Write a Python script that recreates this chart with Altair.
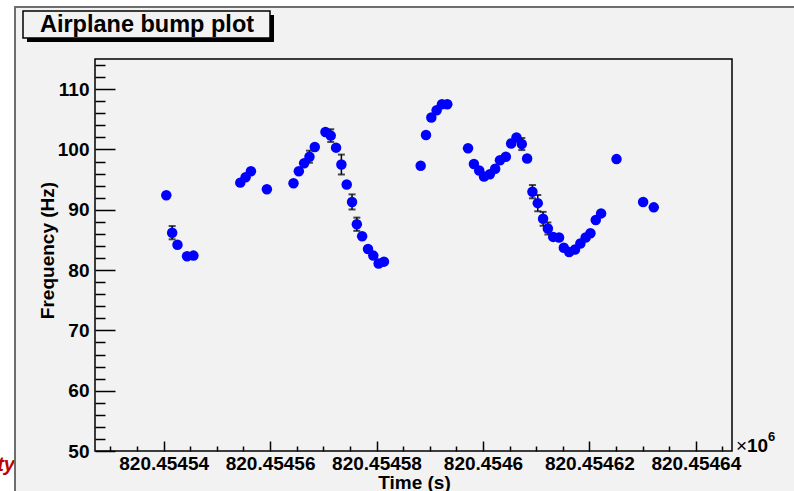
import altair as alt
import pandas as pd

# ---- data (time offsets in seconds from 820454500 s) ----
T0 = 820454500
t_off = [40.5, 41.6, 42.6, 44.4, 45.6,
         54.4, 55.4, 56.4, 59.4,
         64.4, 65.4, 66.4, 67.4, 68.4, 70.4, 71.4, 72.4, 73.4, 74.4, 75.4,
         76.3, 77.3, 78.4, 79.4, 80.4, 81.4,
         88.3, 89.3, 90.3, 91.3, 92.3, 93.3,
         97.2, 98.3, 99.3, 100.2, 101.3, 102.3, 103.2, 104.3, 105.3, 106.3,
         107.3, 108.3, 109.3, 110.3, 111.3, 112.2, 113.2, 114.3, 115.2, 116.2,
         117.3, 118.3, 119.3, 120.2, 121.2, 122.2,
         125.1, 130.1, 132.1]
freq = [92.4, 86.2, 84.2, 82.3, 82.4,
        94.5, 95.4, 96.4, 93.4,
        94.4, 96.4, 97.7, 98.8, 100.4, 102.9, 102.3, 100.3, 97.5, 94.2, 91.3,
        87.6, 85.6, 83.5, 82.4, 81.1, 81.4,
        97.3, 102.4, 105.3, 106.5, 107.5, 107.5,
        100.2, 97.6, 96.5, 95.5, 95.9, 96.8, 98.2, 98.8, 101.0, 102.0,
        100.9, 98.5, 93.0, 91.1, 88.5, 86.9, 85.5, 85.4, 83.7, 83.0,
        83.4, 84.4, 85.4, 86.1, 88.3, 89.4,
        98.4, 91.3, 90.4]
err = [0, 1.1, 0, 0, 0,
       0, 0, 0, 0,
       0, 0, 0, 1.0, 0, 0, 1.05, 0, 1.65, 0, 1.25,
       1.1, 0, 0, 0, 0, 0,
       0, 0, 0, 0, 0, 0,
       0, 0, 0, 0, 0, 0, 0, 0, 0, 0,
       1.0, 0, 1.1, 1.35, 1.15, 1.0, 0, 0, 0, 0,
       0, 0, 0, 0, 0, 0,
       0, 0, 0]

x_major = [40, 60, 80, 100, 120, 140]
x_ticks = list(range(30, 146, 5))
y_major = [50, 60, 70, 80, 90, 100, 110]
y_ticks = list(range(50, 115, 2))

title_text = ["Airplane bump plot"]
x_title = "Time (s)"
y_title = "Frequency (Hz)"

W, H = 637, 392
FONT = "Liberation Sans"
BG = "#f2f2f2"

df = pd.DataFrame({"t": t_off, "f": freq, "e": err})
df["lo"] = df["f"] - df["e"]
df["hi"] = df["f"] + df["e"]

xs = alt.Scale(domain=[27.1, 146.8], nice=False, zero=False)
ys = alt.Scale(domain=[50, 115], nice=False, zero=False)

x_main = alt.Axis(orient="bottom", values=x_major,
                  labelExpr=f"format(({T0} + datum.value) / 1e6, '.5~f')",
                  ticks=False, tickSize=0, domain=False, grid=False,
                  labelFont=FONT, labelFontSize=19, labelFontWeight="bold",
                  labelColor="black", labelPadding=3, labelFlush=False,
                  labelOverlap=False,
                  title=x_title, titleFont=FONT, titleFontSize=19,
                  titleFontWeight="bold", titleColor="black",
                  titleX=319, titleY=37, titleBaseline="alphabetic",
                  titleAlign="center")
y_main = alt.Axis(orient="left", values=y_major,
                  ticks=False, tickSize=0, domain=False, grid=False,
                  labelFont=FONT, labelFontSize=19, labelFontWeight="bold",
                  labelColor="black", labelPadding=6, labelFlush=False,
                  labelOverlap=False,
                  title=y_title, titleFont=FONT, titleFontSize=19,
                  titleFontWeight="bold", titleColor="black",
                  titleAngle=270, titleX=-42, titleY=191,
                  titleBaseline="alphabetic", titleAlign="center")

x_tick_axis = alt.Axis(orient="top", offset=-H, values=x_ticks, labels=False,
                       domain=False, grid=False, ticks=True, tickColor="black",
                       tickWidth=1.5,
                       tickSize={"condition": {"test": "datum.value % 20 === 0", "value": 10},
                                 "value": 5},
                       title=None)
y_tick_axis = alt.Axis(orient="right", offset=-W, values=y_ticks, labels=False,
                       domain=False, grid=False, ticks=True, tickColor="black",
                       tickWidth=1.5,
                       tickSize={"condition": {"test": "datum.value % 10 === 0", "value": 20},
                                 "value": 10},
                       title=None)

base = alt.Chart(df)

points = base.mark_circle(size=110, color="#0000ff", opacity=1).encode(
    x=alt.X("t:Q", scale=xs, axis=x_main),
    y=alt.Y("f:Q", scale=ys, axis=y_main),
)
tick_layer = base.mark_circle(opacity=0, size=1).encode(
    x=alt.X("t:Q", scale=xs, axis=x_tick_axis),
    y=alt.Y("f:Q", scale=ys, axis=y_tick_axis),
)

eb = base.transform_filter("datum.e > 0")
bars = eb.mark_rule(color="black", strokeWidth=1.5).encode(
    x=alt.X("t:Q", scale=xs, axis=None),
    y=alt.Y("lo:Q", scale=ys, axis=None),
    y2="hi:Q",
)
cap_lo = eb.mark_tick(color="black", orient="horizontal", size=7, thickness=2).encode(
    x=alt.X("t:Q", scale=xs, axis=None),
    y=alt.Y("lo:Q", scale=ys, axis=None),
)
cap_hi = eb.mark_tick(color="black", orient="horizontal", size=7, thickness=2).encode(
    x=alt.X("t:Q", scale=xs, axis=None),
    y=alt.Y("hi:Q", scale=ys, axis=None),
)

one = pd.DataFrame({"k": [0]})
OX, OY = 95, 59  # plot origin in page pixels


def rect(x1, y1, x2, y2, **kw):
    return alt.Chart(one).mark_rect(**kw).encode(
        x=alt.value(x1 - OX), x2=alt.value(x2 - OX),
        y=alt.value(y1 - OY), y2=alt.value(y2 - OY))


def text(label, x, y, **kw):
    return alt.Chart(pd.DataFrame({"label": [label]})).mark_text(**kw).encode(
        text="label:N", x=alt.value(x - OX), y=alt.value(y - OY))


deco = [
    rect(0, 0, 794, 7, color="white"),
    rect(0, 0, 15, 491, color="white"),
    text("ty", 15, 471, align="right", baseline="alphabetic", font=FONT,
         fontSize=20, fontWeight="bold", fontStyle="italic", color="#c00000"),
    rect(15, 6, 794, 8, color="#6e6e6e"),
    rect(14, 6, 16, 491, color="#6e6e6e"),
    rect(27, 15, 274, 42, color="black"),
    rect(23, 11, 270, 38, fill=BG, stroke="black", strokeWidth=1.5),
    text(title_text[0], 147, 32, align="center", baseline="alphabetic", font=FONT,
         fontSize=23.5, fontWeight="bold", color="black"),
    text("\u00d7", 736, 452, align="left", baseline="alphabetic", font=FONT,
         fontSize=19, color="black"),
    text("10", 747, 452, align="left", baseline="alphabetic", font=FONT,
         fontSize=19, fontWeight="bold", color="black"),
    text("6", 768, 441, align="left", baseline="alphabetic", font=FONT,
         fontSize=13, fontWeight="bold", color="black"),
]

chart = alt.layer(
    *deco, bars, cap_lo, cap_hi, tick_layer, points
).resolve_axis(
    x="independent", y="independent"
).properties(
    width=W, height=H,
    autosize=alt.AutoSizeParams(type="none"),
    padding={"left": OX, "top": OY, "right": 794 - OX - W, "bottom": 491 - OY - H},
    background=BG,
).configure_view(
    stroke="black", strokeWidth=1.5
)

chart.save("out.html", embed_options={"renderer": "svg", "actions": False})
